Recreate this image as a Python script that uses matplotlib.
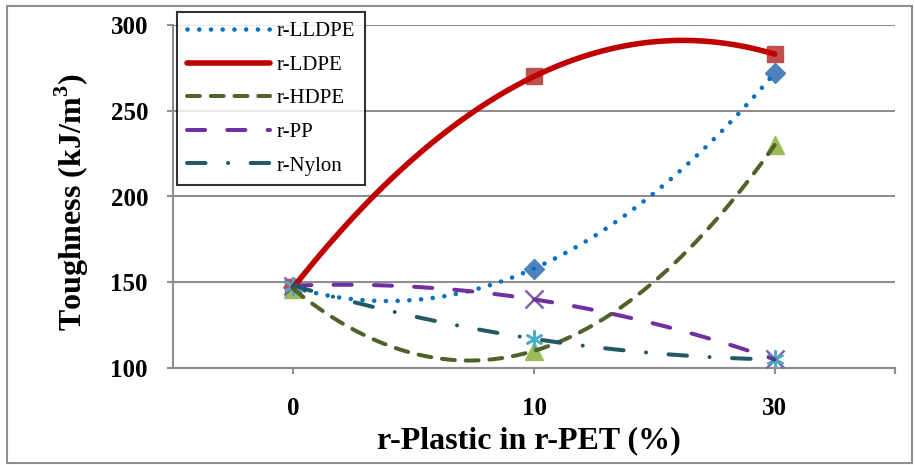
import numpy as np
import matplotlib
matplotlib.use("Agg")
import matplotlib.pyplot as plt
from matplotlib.patches import Rectangle

plt.rcParams['font.family'] = ['Liberation Serif', 'DejaVu Serif']
plt.rcParams['mathtext.fontset'] = 'custom'
plt.rcParams['mathtext.rm'] = 'Liberation Serif'
plt.rcParams['mathtext.bf'] = 'Liberation Serif:bold'

# r-Plastic content in r-PET (%) and toughness (kJ/m^3) of each blend
categories = ["0", "10", "30"]
r_lldpe = [147, 158, 272]
r_ldpe = [147, 270, 283]
r_hdpe = [146, 110, 230]
r_pp = [148, 140, 105]
r_nylon = [148, 117, 105]

series = [
    # name, values, marker, marker colour, line colour, lw, dash pattern
    ("r-LLDPE", r_lldpe, "D", "#4F81BD", "#0070C0", 3.3, (0, (0.01, 2.55))),
    ("r-LDPE", r_ldpe, "s", "#C0504D", "#C00000", 4.0, "-"),
    ("r-HDPE", r_hdpe, "^", "#9BBB59", "#4F6228", 2.9, (0, (3.2, 2.7))),
    ("r-PP", r_pp, "x", "#8064A2", "#7030A0", 2.9, (0, (4.5, 5.5))),
    ("r-Nylon", r_nylon, (6, 2, 0), "#4BACC6", "#215967", 2.9, (0, (4.6, 5.6, 0.01, 5.6))),
]

W, H = 915, 465
fig = plt.figure(figsize=(W / 100, H / 100), dpi=100)
ax = fig.add_axes([173 / W, 1 - 368 / H, (895 - 173) / W, (368 - 25) / H])

grey = "#8E8E8E"
x = np.arange(len(categories))
xs = np.linspace(x[0], x[-1], 300)

handles = []
for name, vals, mk, mcol, lcol, lw, ls in series:
    if mk in ("x", (6, 2, 0)):
        ax.plot(x, vals, linestyle="none", marker=mk, markersize=13,
                markeredgecolor=mcol, markeredgewidth=1.8, zorder=3, clip_on=False)
    else:
        ms = {"D": 10, "s": 11, "^": 13}[mk]
        ax.plot(x, vals, linestyle="none", marker=mk, markersize=ms,
                markerfacecolor=mcol, markeredgecolor=mcol, zorder=3, clip_on=False)
    # second-order polynomial trendline through the points
    coef = np.polyfit(x, vals, 2)
    line, = ax.plot(xs, np.polyval(coef, xs), color=lcol, lw=lw, linestyle=ls,
                    dash_capstyle="round", solid_capstyle="round", zorder=4,
                    label=name)
    handles.append(line)

ax.set_xlim(-0.5, 2.5)
ax.set_ylim(100, 300)
ax.set_xticks(x)
ax.set_xticklabels(categories)
ax.set_xticks([2.5], minor=True)
ax.set_yticks([100, 150, 200, 250, 300])

ax.yaxis.grid(True, color=grey, lw=1.5)
ax.set_axisbelow(True)
for s in ("top", "right"):
    ax.spines[s].set_visible(False)
for s in ("left", "bottom"):
    ax.spines[s].set_color(grey)
    ax.spines[s].set_linewidth(1.5)

ax.tick_params(axis="both", which="both", direction="out", length=4, width=1.5,
               color=grey)
ax.tick_params(axis="x", which="major", pad=17)
ax.tick_params(axis="y", pad=14)
for lab in ax.get_xticklabels() + ax.get_yticklabels():
    lab.set_fontsize(18)
    lab.set_fontweight("bold")

ax.set_xlabel("r-Plastic in r-PET (%)", fontsize=23, fontweight="bold")
ax.set_ylabel("Toughness (kJ/m$^{\\mathbf{3}}$)", fontsize=23, fontweight="bold")
ax.xaxis.set_label_coords(0.493, -0.17)
ax.yaxis.set_label_coords(-0.113, 0.484)

leg = ax.legend(handles=handles, loc="upper left",
                bbox_to_anchor=(177 / W, 1 - 12 / H), bbox_transform=fig.transFigure,
                borderaxespad=0, fontsize=15, frameon=True, fancybox=False,
                edgecolor="black", handlelength=4.0, handletextpad=0.3,
                labelspacing=0.67, borderpad=0.47)
leg.get_frame().set_linewidth(1.5)
leg.set_zorder(10)

fig.patches.append(Rectangle((7 / W, 2 / H), (912 - 7) / W, (459 - 2) / H,
                             transform=fig.transFigure, fill=False,
                             edgecolor=grey, lw=1.5))

fig.savefig("out.png", dpi=100)
